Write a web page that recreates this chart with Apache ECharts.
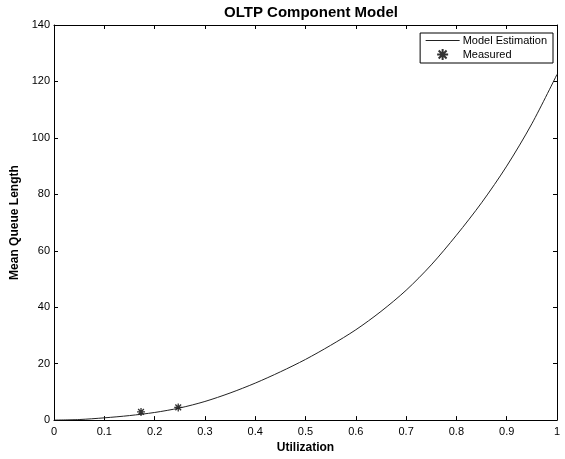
<!DOCTYPE html>
<html>
<head>
<meta charset="utf-8">
<title>OLTP Component Model</title>
<script src="https://cdn.jsdelivr.net/npm/echarts@6/dist/echarts.min.js"></script>
<style>
  html, body { margin: 0; padding: 0; background: #fff; }
  #chart { width: 565px; height: 459px; }
</style>
</head>
<body>
<div id="chart"></div>
<script>
// Model curve: utilization vs. mean queue length
const modelUtil  = [0, 0.05, 0.1, 0.15, 0.2, 0.25, 0.3, 0.35, 0.4, 0.45, 0.5,
                    0.55, 0.6, 0.65, 0.7, 0.75, 0.8, 0.85, 0.9, 0.95, 1.0];
const modelQueue = [0, 0.2, 0.8, 1.6, 2.7, 4.3, 6.6, 9.6, 13.1, 17.1, 21.5,
                    26.5, 32, 38.5, 46, 55, 65.5, 77, 90, 105, 122.5];

// Measured observations
const measuredUtil  = [0.173, 0.247];
const measuredQueue = [2.9, 4.5];

const xTicks = { min: 0, max: 1, interval: 0.1 };
const yTicks = { min: 0, max: 140, interval: 20 };

const FONT = '"Liberation Sans", Arial, Helvetica, sans-serif';

const modelData = modelUtil.map((u, i) => [u, modelQueue[i]]);
const measuredData = measuredUtil.map((u, i) => [u, measuredQueue[i]]);

// Eight-pointed asterisk marker, stroked
const asterisk = 'path://M0,-5L0,5M-5,0L5,0M-3.6,-3.6L3.6,3.6M-3.6,3.6L3.6,-3.6';

// Box-style axes: ticks point inward, lines stay on the plot edges
const axisCommon = {
  axisLine: { show: true, onZero: false, lineStyle: { color: '#000', width: 1 } },
  axisTick: { show: true, inside: true, length: 4, lineStyle: { color: '#000' } },
  splitLine: { show: false }
};

const chart = echarts.init(document.getElementById('chart'), null, { renderer: 'canvas' });

chart.setOption({
  animation: false,
  backgroundColor: '#fff',
  title: {
    text: 'OLTP Component Model',
    left: 306,
    textAlign: 'center',
    top: 0,
    textStyle: { fontFamily: FONT, fontSize: 15, fontWeight: 'bold', color: '#000' }
  },
  legend: {
    orient: 'vertical',
    right: 12,
    top: 33,
    backgroundColor: '#fff',
    borderColor: '#000',
    borderWidth: 1,
    borderRadius: 0,
    padding: [2, 6, 2, 5],
    itemGap: 2,
    itemWidth: 34,
    itemHeight: 11,
    textStyle: { fontFamily: FONT, fontSize: 11, color: '#000', padding: [0, 0, 0, -2] },
    data: [
      { name: 'Model Estimation', itemStyle: { opacity: 0 }, lineStyle: { width: 1, color: '#222' } },
      { name: 'Measured' }
    ]
  },
  grid: { left: 54, right: 8, top: 25, bottom: 37 },
  xAxis: [
    Object.assign({}, axisCommon, {
      type: 'value',
      position: 'bottom',
      min: xTicks.min, max: xTicks.max, interval: xTicks.interval,
      name: 'Utilization',
      nameLocation: 'middle',
      nameGap: 18,
      nameTextStyle: { fontFamily: FONT, fontSize: 12, fontWeight: 'bold', color: '#000' },
      axisLabel: { fontFamily: FONT, fontSize: 11, color: '#000', margin: 6,
                   formatter: v => String(Math.round(v * 10) / 10) }
    }),
    Object.assign({}, axisCommon, {
      type: 'value',
      position: 'top',
      min: xTicks.min, max: xTicks.max, interval: xTicks.interval,
      axisLabel: { show: false }
    })
  ],
  yAxis: [
    Object.assign({}, axisCommon, {
      type: 'value',
      position: 'left',
      min: yTicks.min, max: yTicks.max, interval: yTicks.interval,
      name: 'Mean Queue Length',
      nameLocation: 'middle',
      nameGap: 29,
      nameTextStyle: { fontFamily: FONT, fontSize: 12, fontWeight: 'bold', color: '#000' },
      axisLabel: { fontFamily: FONT, fontSize: 11, color: '#000', margin: 4 }
    }),
    Object.assign({}, axisCommon, {
      type: 'value',
      position: 'right',
      min: yTicks.min, max: yTicks.max, interval: yTicks.interval,
      axisLabel: { show: false }
    })
  ],
  series: [
    {
      name: 'Model Estimation',
      type: 'line',
      xAxisIndex: 0,
      yAxisIndex: 0,
      data: modelData,
      smooth: 0.3,
      symbol: 'none',
      lineStyle: { color: '#222', width: 1 },
      itemStyle: { color: '#222' }
    },
    {
      name: 'Measured',
      type: 'scatter',
      xAxisIndex: 0,
      yAxisIndex: 0,
      data: measuredData,
      symbol: asterisk,
      symbolSize: 8,
      itemStyle: { color: 'rgba(0,0,0,0)', borderColor: '#000', borderWidth: 1.3 }
    }
  ]
});
</script>
</body>
</html>
